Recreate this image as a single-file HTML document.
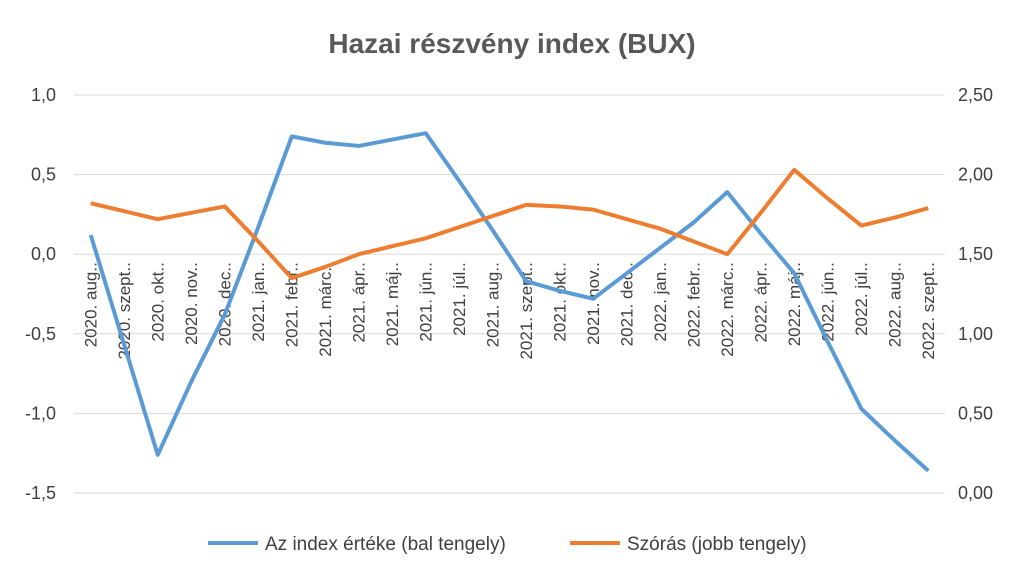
<!DOCTYPE html>
<html><head><meta charset="utf-8"><style>
body{margin:0;background:#fff;}
svg{display:block;font-family:"Liberation Sans",sans-serif;}
</style></head><body>
<svg id="chart" width="1024" height="580">
<rect width="1024" height="580" fill="#fff"/>
<text x="512" y="53" text-anchor="middle" font-size="28" font-weight="bold" fill="#595959">Hazai részvény index (BUX)</text>
<g id="grid"></g><g id="labels"></g><g id="series"></g>
<g>
<line x1="208" y1="543" x2="258" y2="543" stroke="#5B9BD5" stroke-width="4"/>
<text x="265" y="550" font-size="19" fill="#404040">Az index értéke (bal tengely)</text>
<line x1="570" y1="543" x2="620" y2="543" stroke="#ED7D31" stroke-width="4"/>
<text x="627" y="550" font-size="19" fill="#404040">Szórás (jobb tengely)</text>
</g>
</svg>
<script>
const categories=["2020. aug.","2020. szept.","2020. okt.","2020. nov.","2020. dec.","2021. jan.","2021. febr.","2021. márc.","2021. ápr.","2021. máj.","2021. jún.","2021. júl.","2021. aug.","2021. szept.","2021. okt.","2021. nov.","2021. dec.","2022. jan.","2022. febr.","2022. márc.","2022. ápr.","2022. máj.","2022. jún.","2022. júl.","2022. aug.","2022. szept."];
const indexValues=[0.12,-0.57,-1.26,-0.8,-0.38,0.17,0.74,0.70,0.68,0.72,0.76,0.46,0.15,-0.17,-0.23,-0.28,-0.12,0.04,0.2,0.39,0.13,-0.12,-0.55,-0.97,-1.17,-1.36];
const stdValues=[1.82,1.77,1.72,1.76,1.80,1.58,1.35,1.42,1.50,1.55,1.60,1.67,1.74,1.81,1.80,1.78,1.72,1.66,1.58,1.50,1.76,2.03,1.85,1.68,1.73,1.79];
const leftTicks=[1.0,0.5,0.0,-0.5,-1.0,-1.5];
const rightTicks=[2.5,2.0,1.5,1.0,0.5,0.0];
const NS="http://www.w3.org/2000/svg";
const L=74,R=945,T=95,B=493;
const step=(R-L)/categories.length;
const x=i=>L+step*(i+0.5);
const yL=v=>T+(1.0-v)/2.5*(B-T);
const yR=v=>T+(2.5-v)/2.5*(B-T);
function mk(tag,attrs,parent){const e=document.createElementNS(NS,tag);for(const k in attrs)e.setAttribute(k,attrs[k]);parent.appendChild(e);return e;}
const grid=document.getElementById('grid'),labels=document.getElementById('labels'),series=document.getElementById('series');
leftTicks.forEach(t=>{
 const g=mk('line',{x1:L,x2:R,y1:yL(t),y2:yL(t),stroke:'#D9D9D9','stroke-width':1},grid);
 
 
 const tl=mk('text',{x:56,y:yL(t)+6,'text-anchor':'end','font-size':18,fill:'#404040'},labels);
 tl.textContent=t.toFixed(1).replace('.',',');
 
 
});
rightTicks.forEach(t=>{
 const tr=mk('text',{x:958,y:yR(t)+6,'font-size':18,fill:'#404040'},labels);
 tr.textContent=t.toFixed(2).replace('.',',');
 
 
});
categories.forEach((c,i)=>{
 const cx=x(i)+6,cy=yL(0)+8;
 const t=mk('text',{x:cx,y:cy,'text-anchor':'end','font-size':17,fill:'#404040',transform:`rotate(-90 ${cx} ${cy})`},labels);
 t.textContent=c+'.';
 
 
});
const p1=mk('polyline',{points:indexValues.map((v,i)=>x(i)+','+yL(v)).join(' '),fill:'none',stroke:'#5B9BD5','stroke-width':4,'stroke-linejoin':'round'},series);


const p2=mk('polyline',{points:stdValues.map((v,i)=>x(i)+','+yR(v)).join(' '),fill:'none',stroke:'#ED7D31','stroke-width':4,'stroke-linejoin':'round'},series);


</script>
</body></html>
